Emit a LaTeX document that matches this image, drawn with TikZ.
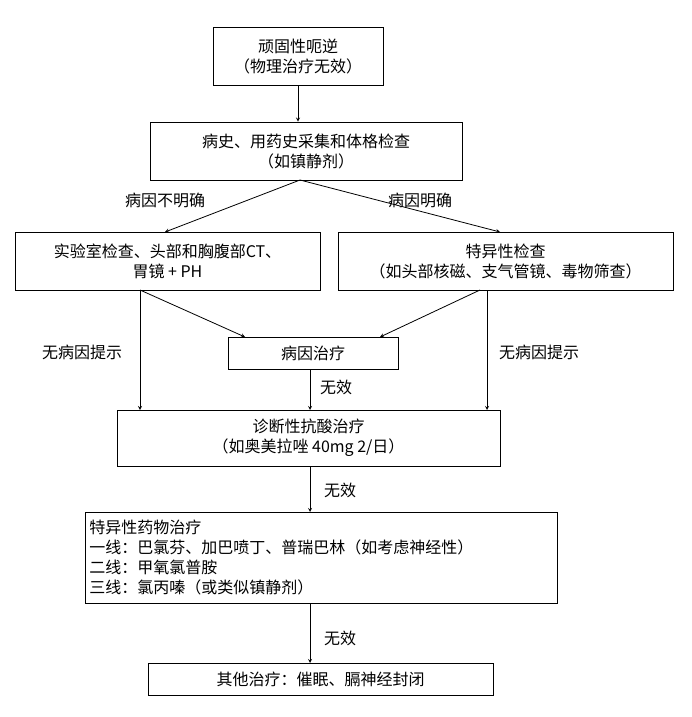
\documentclass[tikz,border=0pt]{standalone}
\usepackage{fontspec}
\setmainfont{Noto Sans CJK SC}
\begin{document}
\begin{tikzpicture}[x=1pt,y=-1pt,
 bx/.style={draw,line width=0.8pt,align=center,font=\fontsize{16}{20}\selectfont,inner sep=0pt},
 lb/.style={font=\fontsize{16}{18}\selectfont},
 ar/.style={->,>=stealth,line width=0.8pt}]
\useasboundingbox[fill=white] (0,0) rectangle (691,717);
\node[bx,minimum width=170,minimum height=58] (a) at (298,56) {顽固性呃逆\\（物理治疗无效）};
\node[bx,minimum width=312,minimum height=58] (b) at (306,151) {病史、用药史采集和体格检查\\（如镇静剂）};
\node[bx,minimum width=305,minimum height=58] (c) at (167.5,261) {实验室检查、头部和胸腹部CT、\\胃镜 + PH};
\node[bx,minimum width=335,minimum height=58] (d) at (505.5,261) {特异性检查\\（如头部核磁、支气管镜、毒物筛查）};
\node[bx,minimum width=170,minimum height=32] (e) at (313,353) {病因治疗};
\node[bx,minimum width=383,minimum height=56] (f) at (308.5,438) {诊断性抗酸治疗\\（如奥美拉唑 40mg 2/日）};
\node[bx,minimum width=472,minimum height=91,align=left,anchor=north west,text width=464,inner xsep=4pt] (g) at (85,512) {特异性药物治疗\\一线：巴氯芬、加巴喷丁、普瑞巴林（如考虑神经性）\\二线：甲氧氯普胺\\三线：氯丙嗪（或类似镇静剂）};
\node[bx,minimum width=345,minimum height=32] (h) at (320.5,679) {其他治疗：催眠、膈神经封闭};
\draw[ar] (a.south) -- (a.south|-b.north);
\draw[ar] (300,180) -- (165,232);
\draw[ar] (300,180) -- (500,232);
\node[lb] at (165,200) {病因不明确};
\node[lb] at (420,200) {病因明确};
\draw[ar] (140,290) -- (245,337);
\draw[ar] (480,290) -- (380,337);
\draw[ar] (140,290) -- (140,410);
\draw[ar] (487,290) -- (487,410);
\node[lb] at (82,352) {无病因提示};
\node[lb] at (539,352) {无病因提示};
\draw[ar] (310,369) -- (310,410);
\node[lb] at (336,387) {无效};
\draw[ar] (310,466) -- (310,512);
\node[lb] at (340,490) {无效};
\draw[ar] (310,603) -- (310,663);
\node[lb] at (340,638) {无效};
\end{tikzpicture}
\end{document}
